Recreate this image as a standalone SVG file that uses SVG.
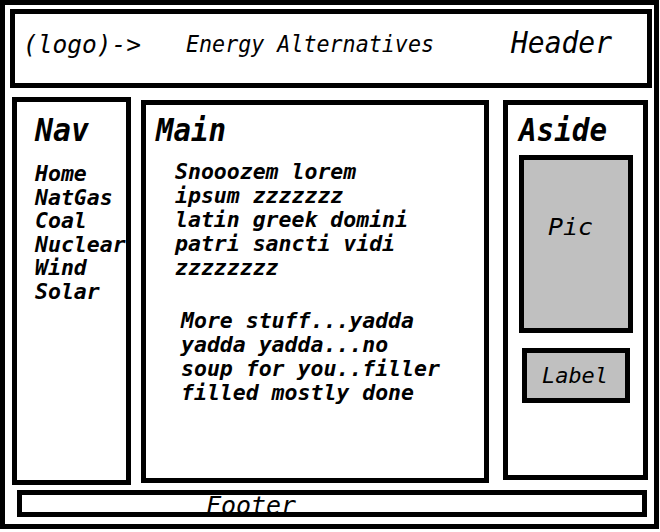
<svg xmlns="http://www.w3.org/2000/svg" width="660" height="532" viewBox="0 0 660 532">
<style>
.box{fill:#ffffff;stroke:#000000;stroke-width:5}
.grey{fill:#c0c0c0;stroke:#000000;stroke-width:5}
text{font-family:"DejaVu Sans Mono","Liberation Mono",monospace;font-style:oblique;fill:#000000}
.title{font-size:32px;font-weight:bold}
.body{font-size:21.5px;font-weight:bold}
.lite{font-weight:normal}
</style>
<rect x="0" y="0" width="660" height="532" fill="#ffffff"/>
<g id="page">
<rect class="box" x="2.5" y="2.5" width="654" height="524"/>
</g>
<g id="header">
<rect class="box" x="12.5" y="11.5" width="637" height="74"/>
<text class="lite" x="23" y="53" font-size="24" textLength="118" lengthAdjust="spacingAndGlyphs">(logo)-&gt;</text>
<text class="lite" x="186" y="52" font-size="23" textLength="248" lengthAdjust="spacingAndGlyphs">Energy Alternatives</text>
<text class="lite" x="511" y="53" font-size="31" textLength="101" lengthAdjust="spacingAndGlyphs">Header</text>
</g>
<g id="nav">
<rect class="box" x="14.5" y="99.5" width="114" height="383"/>
<text class="title" x="35" y="141" textLength="54" lengthAdjust="spacingAndGlyphs">Nav</text>
<text class="body" x="35" y="181">Home</text>
<text class="body" x="35" y="205">NatGas</text>
<text class="body" x="35" y="228">Coal</text>
<text class="body" x="35" y="252">Nuclear</text>
<text class="body" x="35" y="275">Wind</text>
<text class="body" x="35" y="299">Solar</text>
</g>
<g id="main">
<rect class="box" x="143.5" y="102.5" width="343" height="378"/>
<text class="title" x="156" y="141" textLength="70" lengthAdjust="spacingAndGlyphs">Main</text>
<text class="body" x="175" y="179">Snooozem lorem</text>
<text class="body" x="175" y="203">ipsum zzzzzzz</text>
<text class="body" x="175" y="227">latin greek domini</text>
<text class="body" x="175" y="251">patri sancti vidi</text>
<text class="body" x="175" y="275">zzzzzzzz</text>
<text class="body" x="181" y="328">More stuff...yadda</text>
<text class="body" x="181" y="352">yadda yadda...no</text>
<text class="body" x="181" y="376">soup for you..filler</text>
<text class="body" x="181" y="400">filled mostly done</text>
</g>
<g id="aside">
<rect class="box" x="505.5" y="102.5" width="140" height="375"/>
<text class="title" x="519" y="141" textLength="88" lengthAdjust="spacingAndGlyphs">Aside</text>
</g>
<g id="pic">
<rect class="grey" x="521.5" y="157.5" width="109" height="173"/>
<text class="lite" x="548" y="235" font-size="23" textLength="45" lengthAdjust="spacingAndGlyphs">Pic</text>
</g>
<g id="label">
<rect class="grey" x="524.5" y="350.5" width="103" height="50"/>
<text class="lite" x="542" y="383" font-size="22" textLength="66" lengthAdjust="spacingAndGlyphs">Label</text>
</g>
<g id="footer">
<rect class="box" x="19.5" y="492.5" width="625" height="22"/>
<text class="lite" x="206" y="514" font-size="24" textLength="90" lengthAdjust="spacingAndGlyphs">Footer</text>
</g>
<g id="connectors"></g>
</svg>
